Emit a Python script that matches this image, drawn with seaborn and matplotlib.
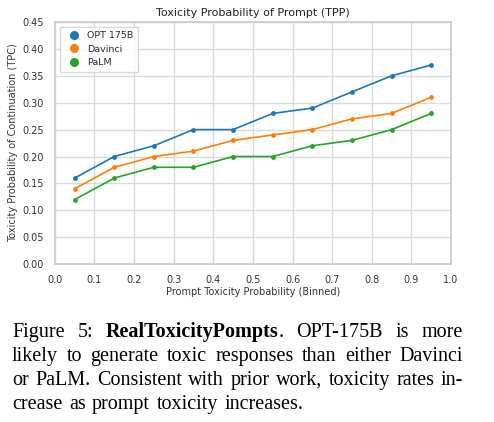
import numpy as np
import pandas as pd
import matplotlib
matplotlib.use("Agg")
import matplotlib.pyplot as plt
import seaborn as sns

bins = [0.05, 0.15, 0.25, 0.35, 0.45, 0.55, 0.65, 0.75, 0.85, 0.95]
opt = [0.16, 0.20, 0.22, 0.25, 0.25, 0.28, 0.29, 0.32, 0.35, 0.37]
davinci = [0.14, 0.18, 0.20, 0.21, 0.23, 0.24, 0.25, 0.27, 0.28, 0.31]
palm = [0.12, 0.16, 0.18, 0.18, 0.20, 0.20, 0.22, 0.23, 0.25, 0.28]
models = ["OPT 175B", "Davinci", "PaLM"]

df = pd.DataFrame({
    "TPP": bins * 3,
    "TPC": opt + davinci + palm,
    "Model": [models[0]] * 10 + [models[1]] * 10 + [models[2]] * 10,
})

sns.set_theme(style="whitegrid")
plt.rcParams["font.family"] = ["DejaVu Sans"]

fig = plt.figure(figsize=(4.94, 4.22), dpi=100)
ax = fig.add_axes([0.111, 0.374, 0.802, 0.574])
palette = sns.color_palette("tab10", 3)

sns.lineplot(data=df, x="TPP", y="TPC", hue="Model", palette=palette,
             marker="o", markersize=3.5, markeredgewidth=0, linewidth=1.2,
             legend=False, ax=ax)

handles = [plt.Line2D([], [], marker="o", linestyle="", color=c, markersize=5.5)
           for c in palette]
leg = ax.legend(handles, models, loc="upper left", fontsize=6.8, frameon=True,
                fancybox=False, edgecolor="#cccccc", borderpad=0.5,
                handletextpad=0.4, labelspacing=0.45)

ax.set_xlim(0, 1.0)
ax.set_ylim(0, 0.45)
ax.set_xticks(np.arange(0, 1.01, 0.1))
ax.set_yticks(np.arange(0, 0.451, 0.05))
ax.set_xticklabels([f"{v:.1f}" for v in np.arange(0, 1.01, 0.1)])
ax.set_yticklabels([f"{v:.2f}" for v in np.arange(0, 0.451, 0.05)])
ax.tick_params(labelsize=7, pad=2, colors="#333333")
ax.set_xlabel("Prompt Toxicity Probability (Binned)", fontsize=7, labelpad=1, color="#333333")
ax.set_ylabel("Toxicity Probability of Continuation (TPC)", fontsize=7, labelpad=3, color="#333333")
ax.set_title("Toxicity Probability of Prompt (TPP)", fontsize=8, pad=4, color="#222222")
for s in ax.spines.values():
    s.set_color("#cccccc")
ax.grid(color="#d9d9d9", linewidth=1.0)

# Caption (justified)
caption_lines = [
    [("Figure", False), ("5:", False), ("RealToxicityPompts", True), (".", False, True), ("OPT-175B", False), ("is", False), ("more", False)],
    [("likely", False), ("to", False), ("generate", False), ("toxic", False), ("responses", False), ("than", False), ("either", False), ("Davinci", False)],
    [("or", False), ("PaLM.", False), ("Consistent", False), ("with", False), ("prior", False), ("work,", False), ("toxicity", False), ("rates", False), ("in-", False)],
    [("crease", False), ("as", False), ("prompt", False), ("toxicity", False), ("increases.", False)],
]
x0, x1 = 12 / 494, 463 / 494
baselines = [337, 361, 385, 409]
fig.canvas.draw()
renderer = fig.canvas.get_renderer()
fs = 14.5
for li, words in enumerate(caption_lines):
    y = 1 - baselines[li] / 422
    groups = []
    for w in words:
        if len(w) == 3 and groups:
            groups[-1].append(w)
        else:
            groups.append([w])
    texts = []
    widths = []
    for g in groups:
        gw = 0
        gt = []
        for w in g:
            t = fig.text(0, y, w[0], fontsize=fs, family="Liberation Serif",
                         fontweight="bold" if w[1] else "normal", va="baseline", ha="left",
                         color="black")
            bb = t.get_window_extent(renderer)
            gt.append((t, bb.width / fig.bbox.width))
            gw += bb.width / fig.bbox.width
        texts.append(gt)
        widths.append(gw)
    last = li == len(caption_lines) - 1
    if last:
        space = 6.5 / 494
    else:
        space = (x1 - x0 - sum(widths)) / (len(groups) - 1)
    x = x0
    for gt in texts:
        for t, w in gt:
            t.set_x(x)
            x += w
        x += space

fig.savefig("out.png", dpi=100)
